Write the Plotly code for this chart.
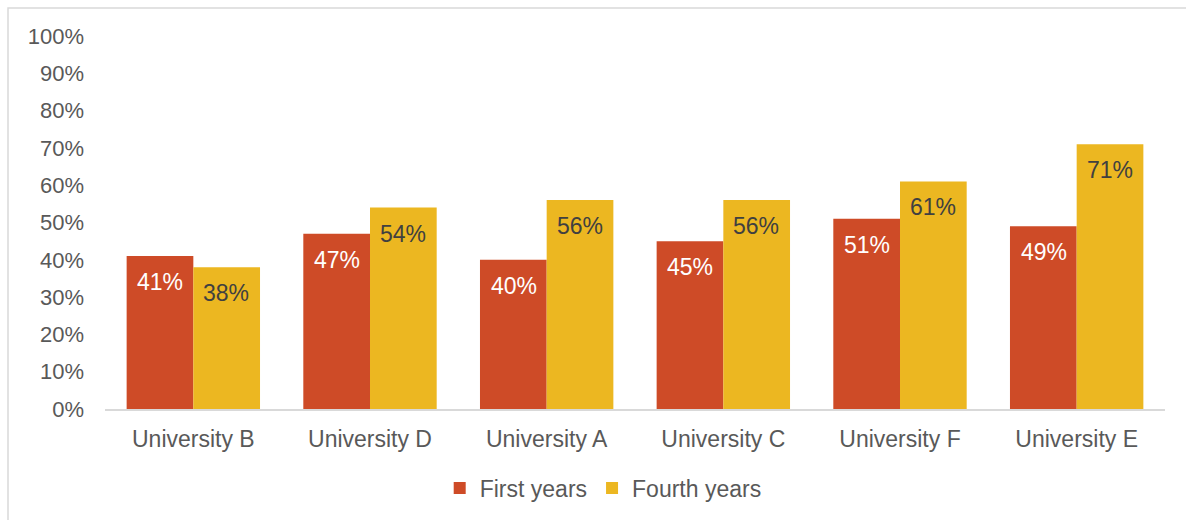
import plotly.graph_objects as go

categories = ["University B", "University D", "University A", "University C", "University F", "University E"]
first_years = [0.41, 0.47, 0.40, 0.45, 0.51, 0.49]
fourth_years = [0.38, 0.54, 0.56, 0.56, 0.61, 0.71]
y_ticks = [i / 10 for i in range(11)]

RED = "#CE4B27"
YELLOW = "#ECB721"
FONT = "Liberation Sans, Arial, sans-serif"
GRAY = "#595959"

fig = go.Figure()
fig.add_trace(go.Bar(name="First years", x=categories, y=first_years, marker_color=RED,
                     marker_line_width=0))
fig.add_trace(go.Bar(name="Fourth years", x=categories, y=fourth_years, marker_color=YELLOW,
                     marker_line_width=0))

annotations = []
for c, v in zip(categories, first_years):
    annotations.append(dict(x=c, y=v, xref="x", yref="y", text=f"{round(v*100)}%", showarrow=False,
                            xshift=-33, yshift=-26, yanchor="middle",
                            font=dict(family=FONT, size=23, color="white")))
for c, v in zip(categories, fourth_years):
    annotations.append(dict(x=c, y=v, xref="x", yref="y", text=f"{round(v*100)}%", showarrow=False,
                            xshift=33, yshift=-26, yanchor="middle",
                            font=dict(family=FONT, size=23, color="#404040")))

fig.update_layout(
    width=1186, height=520,
    margin=dict(l=105, r=21, t=36, b=110),
    paper_bgcolor="white", plot_bgcolor="white",
    barmode="group", bargap=0.245, bargroupgap=0,
    font=dict(family=FONT, size=23, color=GRAY),
    showlegend=True,
    legend=dict(orientation="h", x=0.47, xanchor="center", y=-0.2086, yanchor="middle",
                font=dict(family=FONT, size=23, color=GRAY), itemwidth=30, tracegroupgap=0),
    annotations=annotations,
    shapes=[dict(type="rect", xref="paper", yref="paper", x0=-0.0915, x1=1.2, y0=-0.6, y1=1.0749,
                 line=dict(color="#D9D9D9", width=1.5), layer="below")],
)
fig.update_yaxes(range=[0, 1], tickvals=y_ticks, tickformat=".0%", showgrid=False, zeroline=False,
                 showline=False, ticks="", ticklabelstandoff=20,
                 tickfont=dict(family=FONT, size=22, color=GRAY))
fig.update_xaxes(showline=True, linecolor="#D9D9D9", linewidth=2, ticks="", showgrid=False,
                 ticklabelstandoff=8, tickfont=dict(family=FONT, size=23, color=GRAY))

fig.write_html("out.html")
